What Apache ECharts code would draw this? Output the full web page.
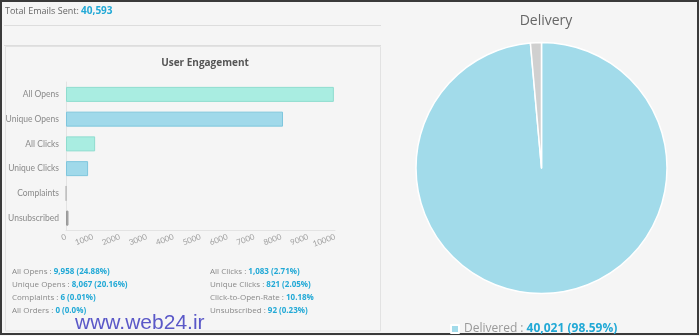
<!DOCTYPE html>
<html>
<head>
<meta charset="utf-8">
<script src="https://cdn.jsdelivr.net/npm/echarts@6/dist/echarts.min.js"></script>
<style>
html,body{margin:0;padding:0;background:#f5f5f5;}
#c{width:700px;height:336px;}
</style>
</head>
<body>
<div id="c"></div>
<script>
// ---- data ----
var totalSent = '40,593';
var categories = ['All Opens', 'Unique Opens', 'All Clicks', 'Unique Clicks', 'Complaints', 'Unsubscribed'];
var values = [9958, 8067, 1083, 821, 6, 92];
var xTicks = [0, 1000, 2000, 3000, 4000, 5000, 6000, 7000, 8000, 9000, 10000];
var statsLeftLabels = ['All Opens', 'Unique Opens', 'Complaints', 'All Orders'];
var statsLeftValues = ['9,958 (24.88%)', '8,067 (20.16%)', '6 (0.01%)', '0 (0.0%)'];
var statsRightLabels = ['All Clicks', 'Unique Clicks', 'Click-to-Open-Rate', 'Unsubscribed'];
var statsRightValues = ['1,083 (2.71%)', '821 (2.05%)', '10.18%', '92 (0.23%)'];
var deliveryNames = ['Delivered', 'Not Delivered'];
var deliveryValues = [40021, 572];
var deliveryLegendValue = '40,021 (98.59%)';

// ---- styles ----
var barFill = ['#a9ede1', '#a0d9ea', '#a9ede1', '#a0d9ea', '#cccccc', '#a9a9a9'];
var barBorder = ['#8fdccf', '#7fc6dd', '#8fdccf', '#7fc6dd', '#bbbbbb', '#999999'];
var font = '"Open Sans", "Noto Sans", sans-serif';

var chart = echarts.init(document.getElementById('c'));

var graphics = [];
// outer frame
graphics.push({type:'rect', shape:{x:1, y:1, width:697, height:333}, style:{fill:'none', stroke:'#3a3a3a', lineWidth:2}, silent:true});
// header
graphics.push({type:'text', left:5, top:6, style:{
  text:'{a|Total Emails Sent: }{b|' + totalSent + '}',
  rich:{a:{fontSize:9, fill:'#666', fontFamily:font}, b:{fontSize:10, fill:'#22a9d6', fontWeight:'bold', fontFamily:font}}
}});
graphics.push({type:'line', shape:{x1:4, y1:25.5, x2:381, y2:25.5}, style:{stroke:'#dddddd', lineWidth:1}});
graphics.push({type:'line', shape:{x1:4, y1:45.5, x2:381, y2:45.5}, style:{stroke:'#dddddd', lineWidth:1}});
// inner box
graphics.push({type:'rect', shape:{x:5.5, y:46.5, width:375, height:284.5}, style:{fill:'none', stroke:'#e2e2e2', lineWidth:1}});
// stats
for (var i = 0; i < statsLeftLabels.length; i++) {
  graphics.push({type:'text', left:12, top:268 + i * 13, style:{
    text:'{a|' + statsLeftLabels[i] + ' : }{b|' + statsLeftValues[i] + '}',
    rich:{a:{fontSize:8, fill:'#8a8a8a', fontFamily:font}, b:{fontSize:8, fill:'#22a9d6', fontWeight:'bold', fontFamily:font}}
  }});
  graphics.push({type:'text', left:210, top:268 + i * 13, style:{
    text:'{a|' + statsRightLabels[i] + ' : }{b|' + statsRightValues[i] + '}',
    rich:{a:{fontSize:8, fill:'#8a8a8a', fontFamily:font}, b:{fontSize:8, fill:'#22a9d6', fontWeight:'bold', fontFamily:font}}
  }});
}
// watermark
graphics.push({type:'text', left:75, top:313, z:100, style:{text:'www.web24.ir', fontSize:21, fill:'#5a58c8', fontFamily:'"Liberation Sans", Arial, sans-serif'}});

var option = {
  backgroundColor:'#f5f5f5',
  animation:false,
  title:[
    {text:'User Engagement', left:200, top:53, textAlign:'center', textStyle:{fontSize:10, fontWeight:'bold', color:'#555', fontFamily:font}},
    {text:'Delivery', left:541, top:9, textAlign:'center', textStyle:{fontSize:14, fontWeight:'normal', color:'#666', fontFamily:font}}
  ],
  grid:{left:66, right:365, top:82, bottom:105.5, containLabel:false},
  xAxis:{
    type:'value', min:xTicks[0], max:xTicks[xTicks.length-1], interval:xTicks[1]-xTicks[0],
    axisLine:{show:true, lineStyle:{color:'#e3e3e3'}},
    axisTick:{show:false},
    splitLine:{show:false},
    axisLabel:{rotate:20, fontSize:8, color:'#a0a0a0', margin:6, fontFamily:'Lato, sans-serif',
      formatter:function(v){ return String(v); }}
  },
  yAxis:{
    type:'category', data:categories, inverse:true,
    axisLine:{show:true, lineStyle:{color:'#e3e3e3'}},
    axisTick:{show:false},
    axisLabel:{fontSize:8.5, color:'#8a8a8a', margin:7, fontFamily:'Lato, sans-serif'}
  },
  legend:{
    left:445, top:318, itemWidth:8, itemHeight:8, icon:'rect',
    data:[deliveryNames[0]],
    formatter:function(){ return '{a|' + deliveryNames[0] + ' : }{b|' + deliveryLegendValue + '}'; },
    textStyle:{rich:{a:{fontSize:12, color:'#999', fontFamily:font}, b:{fontSize:12, color:'#22a9d6', fontWeight:'bold', fontFamily:font}}}
  },
  graphic:graphics,
  series:[
    {
      type:'bar', barWidth:15,
      data:values.map(function(v, i){ return {value:v, itemStyle:{color:barFill[i], borderColor:barBorder[i], borderWidth:1}}; }),
      barMinWidth:1
    },
    {
      type:'pie', center:[541.5, 168], radius:125.5, startAngle:90, clockwise:true,
      label:{show:false}, labelLine:{show:false},
      itemStyle:{borderColor:'#ffffff', borderWidth:1.5},
      data:deliveryNames.map(function(n, i){ return {name:n, value:deliveryValues[i], itemStyle:{color: i === 0 ? '#a2dbea' : '#d0d0d0'}}; })
    }
  ]
};
chart.setOption(option);
</script>
</body>
</html>
